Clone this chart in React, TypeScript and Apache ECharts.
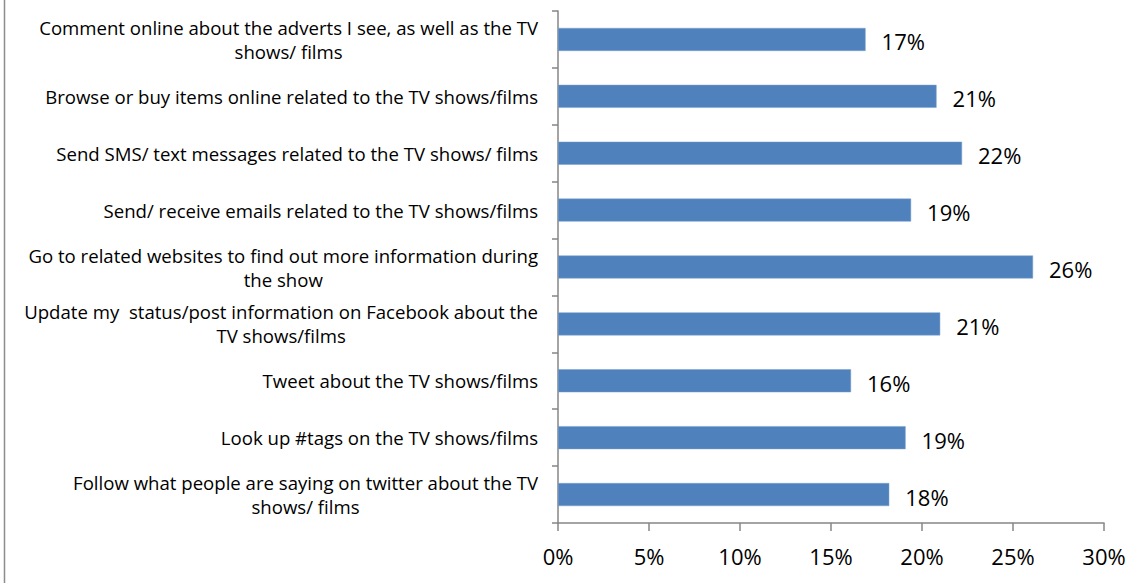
import React, { useEffect, useRef } from "react";
import * as echarts from "echarts";

const categories: string[] = [
  "Comment online about the adverts I see, as well as the TV\nshows/ films",
  "Browse or buy items online related to the TV shows/films",
  "Send SMS/ text messages related to the TV shows/ films",
  "Send/ receive emails related to the TV shows/films",
  "Go to related websites to find out more information during\nthe show",
  "Update my  status/post information on Facebook about the\nTV shows/films",
  "Tweet about the TV shows/films",
  "Look up #tags on the TV shows/films",
  "Follow what people are saying on twitter about the TV\nshows/ films",
];

const values: number[] = [16.9, 20.8, 22.2, 19.4, 26.1, 21.0, 16.1, 19.1, 18.2];

const xTicks: number[] = [0, 5, 10, 15, 20, 25, 30];

const FONT = "'Open Sans', 'Noto Sans', sans-serif";

export default function App() {
  const ref = useRef<HTMLDivElement>(null);
  useEffect(() => {
    if (!ref.current) return;
    const chart = echarts.init(ref.current, undefined, { renderer: "svg" });
    chart.setOption({
      animation: false,
      backgroundColor: "#ffffff",
      grid: { left: 558, right: 43, top: 11, bottom: 60, containLabel: false },
      xAxis: {
        type: "value",
        min: xTicks[0],
        max: xTicks[xTicks.length - 1],
        interval: 5,
        splitLine: { show: false },
        axisLine: { show: true, lineStyle: { color: "#868686", width: 1.5 } },
        axisTick: { show: true, length: 8, lineStyle: { color: "#868686", width: 1.5 } },
        axisLabel: {
          formatter: (v: number) => `${v}%`,
          fontSize: 22,
          fontFamily: FONT,
          color: "#000",
          margin: 22,
        },
      },
      yAxis: {
        type: "category",
        inverse: true,
        data: categories,
        axisLine: { show: true, lineStyle: { color: "#868686", width: 1.5 } },
        axisTick: { show: true, length: 6, alignWithLabel: false, lineStyle: { color: "#868686", width: 1.5 } },
        axisLabel: {
          margin: 20,
          color: "#000",
          fontSize: 18.6,
          fontFamily: FONT,
          lineHeight: 24,
          formatter: (v: string) =>
            v
              .split("\n")
              .map((l) => `{c|${l}}`)
              .join("\n"),
          rich: {
            c: { align: "center", fontSize: 18.6, fontFamily: FONT, color: "#000", lineHeight: 24 },
          },
        },
      },
      series: [
        {
          type: "bar",
          data: values,
          barWidth: 23,
          itemStyle: { color: "#4F81BD", borderColor: "#7BA0CD", borderWidth: 0.5 },
          label: {
            show: true,
            position: "right",
            distance: 16,
            fontSize: 22,
            fontFamily: FONT,
            color: "#000",
            offset: [0, 2],
            formatter: (p: any) => `${Math.round(p.value)}%`,
          },
        },
      ],
      graphic: [
        {
          type: "line",
          shape: { x1: 4.5, y1: 0, x2: 4.5, y2: 583 },
          style: { stroke: "#8c8c8c", lineWidth: 1.5 },
        },
      ],
    });
    return () => chart.dispose();
  }, []);
  return (
    <div
      ref={ref}
      style={{ position: "fixed", left: 0, top: 0, width: 1147, height: 583 }}
    />
  );
}
